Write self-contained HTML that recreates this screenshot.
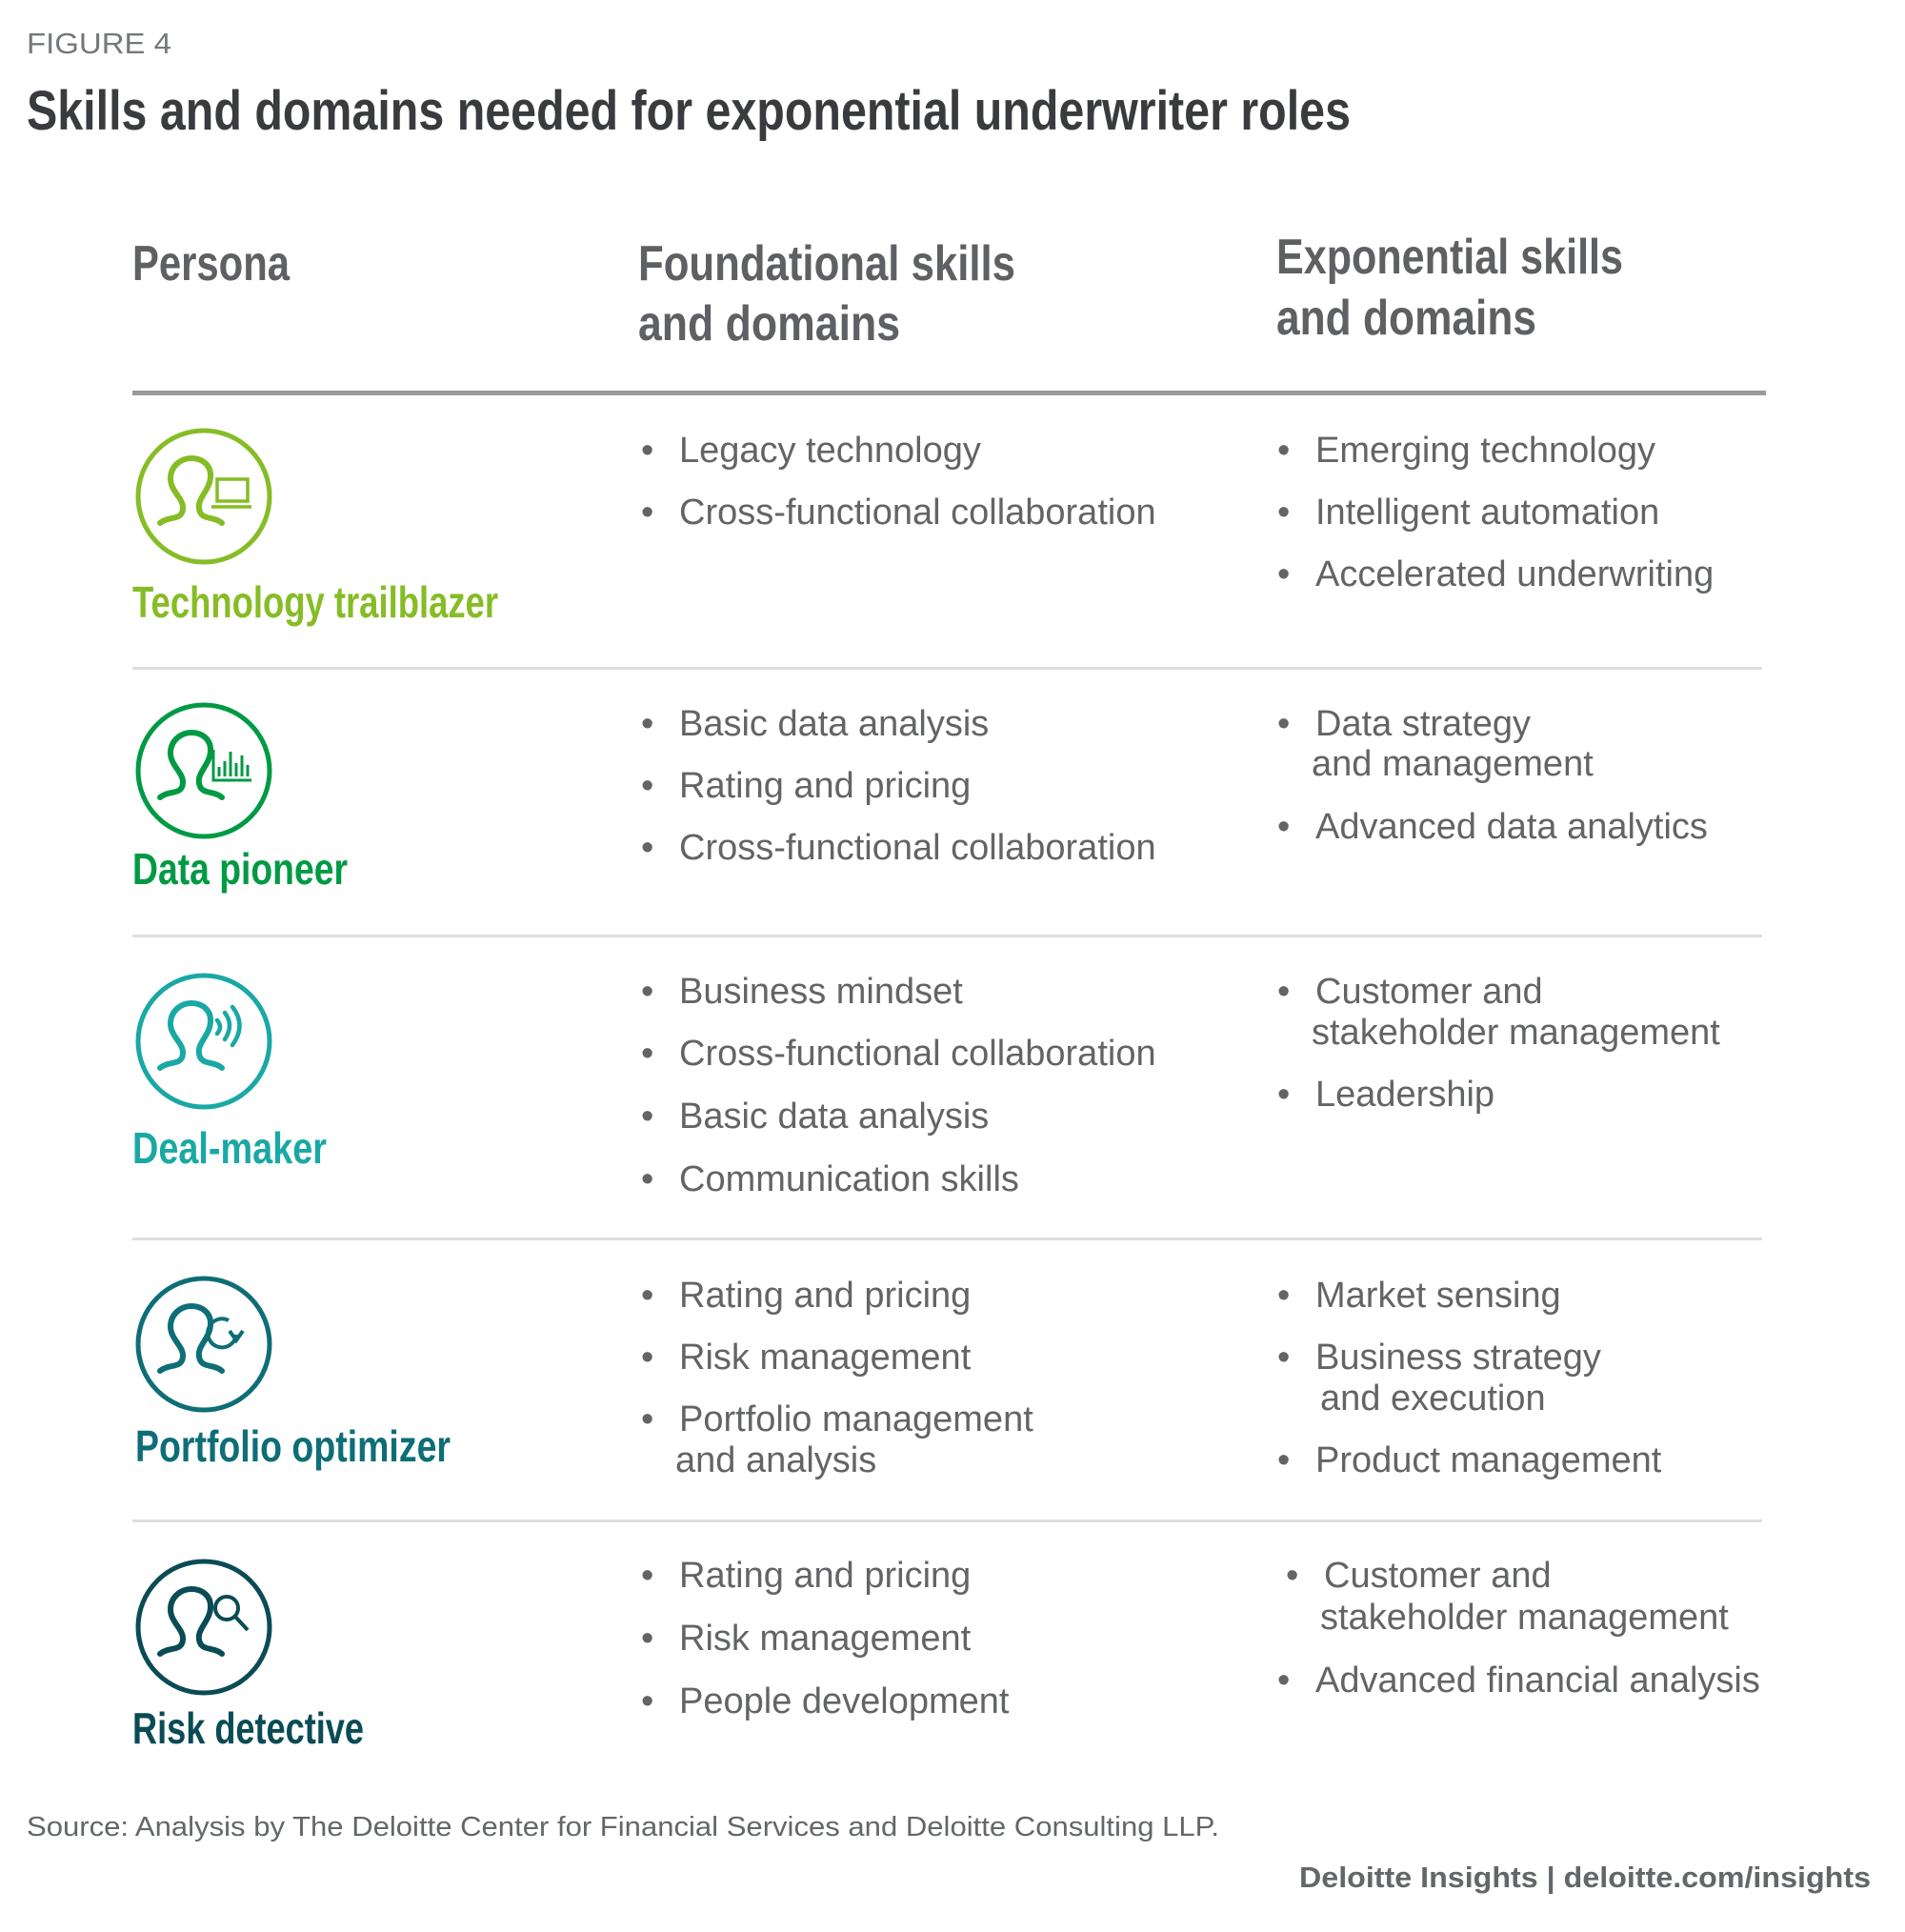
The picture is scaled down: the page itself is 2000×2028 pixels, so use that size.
<!DOCTYPE html>
<html><head><meta charset="utf-8"><style>
html,body{margin:0;padding:0;background:#fff;}
svg{display:block;}
.h{font-family:"Liberation Sans",sans-serif;font-weight:bold;fill:#5f6064;}
.b{font-family:"Liberation Sans",sans-serif;font-size:38px;fill:#636466;}
.p{font-family:"Liberation Sans",sans-serif;font-weight:bold;font-size:46px;}
</style></head><body>
<svg width="2000" height="2028" viewBox="0 0 2000 2028" xmlns="http://www.w3.org/2000/svg">
<text x="28" y="56" font-family="Liberation Sans, sans-serif" font-size="31" fill="#75787b" textLength="152" lengthAdjust="spacingAndGlyphs">FIGURE 4</text>
<text x="28" y="136" font-family="Liberation Sans, sans-serif" font-weight="bold" font-size="58" fill="#3a3b3e" textLength="1390" lengthAdjust="spacingAndGlyphs">Skills and domains needed for exponential underwriter roles</text>

<text class="h" x="139" y="294" font-size="52" textLength="165" lengthAdjust="spacingAndGlyphs">Persona</text>
<text class="h" x="670" y="294" font-size="52" textLength="396" lengthAdjust="spacingAndGlyphs">Foundational skills</text>
<text class="h" x="670" y="357" font-size="52" textLength="275" lengthAdjust="spacingAndGlyphs">and domains</text>
<text class="h" x="1340" y="287" font-size="52" textLength="364" lengthAdjust="spacingAndGlyphs">Exponential skills</text>
<text class="h" x="1340" y="351" font-size="52" textLength="273" lengthAdjust="spacingAndGlyphs">and domains</text>

<rect x="139" y="410" width="1715" height="5" fill="#97999b"/>
<rect x="139" y="700" width="1711" height="3" fill="#dedede"/>
<rect x="139" y="981" width="1711" height="3" fill="#dedede"/>
<rect x="139" y="1299" width="1711" height="3" fill="#dedede"/>
<rect x="139" y="1595" width="1711" height="3" fill="#dedede"/>

<defs>
<path id="person" d="M-46,28 C-36,20 -23,26 -22,13 C-21,2 -36,-6 -35,-20 C-34,-33 -23,-40 -13,-40 C-2,-40 8,-33 7,-20 C6,-6 -7,2 -5,13 C-3,26 10,20 19,28" fill="none" stroke-width="6" stroke-linecap="round"/>
</defs>

<g transform="translate(214,521)" stroke="#86bc25" fill="none">
<circle r="69" stroke-width="5"/>
<use href="#person" stroke="#86bc25"/>
<rect x="14" y="-18" width="32" height="23" stroke-width="3.5"/>
<line x1="8" y1="11" x2="50" y2="11" stroke-width="3.5"/>
</g>
<text class="p" x="139" y="648" fill="#86bc25" textLength="384" lengthAdjust="spacingAndGlyphs">Technology trailblazer</text>

<g transform="translate(214,809)" stroke="#009a44" fill="none">
<circle r="69" stroke-width="5"/>
<use href="#person" stroke="#009a44"/>
<path d="M10,-22 V10 H50" stroke-width="3"/>
<path d="M16,6 V-4 M22,6 V-10 M28,6 V-20 M34,6 V-8 M40,6 V-16 M46,6 V-6" stroke-width="3"/>
</g>
<text class="p" x="139" y="928" fill="#009a44" textLength="226" lengthAdjust="spacingAndGlyphs">Data pioneer</text>

<g transform="translate(214,1093)" stroke="#1aa8a5" fill="none">
<circle r="69" stroke-width="5"/>
<use href="#person" stroke="#1aa8a5"/>
<path d="M14,-22 Q20,-15 14,-8" stroke-width="4.5" stroke-linecap="round"/>
<path d="M22,-30 Q32,-17 22,-2" stroke-width="4.5" stroke-linecap="round"/>
<path d="M30,-36 Q45,-17 30,4" stroke-width="4.5" stroke-linecap="round"/>
</g>
<text class="p" x="139" y="1221" fill="#1aa8a5" textLength="204" lengthAdjust="spacingAndGlyphs">Deal-maker</text>

<g transform="translate(214,1411)" stroke="#0d6e77" fill="none">
<circle r="69" stroke-width="5"/>
<use href="#person" stroke="#0d6e77"/>
<path d="M42,-12 A15,15 0 1 1 34,-27" stroke-width="4" transform="translate(-8,2)"/>
<path d="M27,-14 L34,-4 L41,-14" stroke-width="4"/>
</g>
<text class="p" x="142" y="1534" fill="#0d6e77" textLength="331" lengthAdjust="spacingAndGlyphs">Portfolio optimizer</text>

<g transform="translate(214,1708)" stroke="#0a4b55" fill="none">
<circle r="69" stroke-width="5"/>
<use href="#person" stroke="#0a4b55"/>
<circle cx="24" cy="-20" r="12" stroke-width="4"/>
<line x1="33" y1="-11" x2="46" y2="3" stroke-width="4"/>
</g>
<text class="p" x="139" y="1830" fill="#0a4b55" textLength="243" lengthAdjust="spacingAndGlyphs">Risk detective</text>

<g>
<text class="b" x="673" y="485">•</text><text class="b" x="713" y="485">Legacy technology</text>
<text class="b" x="673" y="550">•</text><text class="b" x="713" y="550">Cross-functional collaboration</text>

<text class="b" x="673" y="772">•</text><text class="b" x="713" y="772">Basic data analysis</text>
<text class="b" x="673" y="837">•</text><text class="b" x="713" y="837">Rating and pricing</text>
<text class="b" x="673" y="902">•</text><text class="b" x="713" y="902">Cross-functional collaboration</text>

<text class="b" x="673" y="1053">•</text><text class="b" x="713" y="1053">Business mindset</text>
<text class="b" x="673" y="1118">•</text><text class="b" x="713" y="1118">Cross-functional collaboration</text>
<text class="b" x="673" y="1184">•</text><text class="b" x="713" y="1184">Basic data analysis</text>
<text class="b" x="673" y="1250">•</text><text class="b" x="713" y="1250">Communication skills</text>

<text class="b" x="673" y="1372">•</text><text class="b" x="713" y="1372">Rating and pricing</text>
<text class="b" x="673" y="1437">•</text><text class="b" x="713" y="1437">Risk management</text>
<text class="b" x="673" y="1502">•</text><text class="b" x="713" y="1502">Portfolio management</text>
<text class="b" x="709" y="1545">and analysis</text>

<text class="b" x="673" y="1666">•</text><text class="b" x="713" y="1666">Rating and pricing</text>
<text class="b" x="673" y="1732">•</text><text class="b" x="713" y="1732">Risk management</text>
<text class="b" x="673" y="1798">•</text><text class="b" x="713" y="1798">People development</text>
</g>

<g>
<text class="b" x="1341" y="485">•</text><text class="b" x="1381" y="485">Emerging technology</text>
<text class="b" x="1341" y="550">•</text><text class="b" x="1381" y="550">Intelligent automation</text>
<text class="b" x="1341" y="615">•</text><text class="b" x="1381" y="615">Accelerated underwriting</text>

<text class="b" x="1341" y="772">•</text><text class="b" x="1381" y="772">Data strategy</text>
<text class="b" x="1377" y="814">and management</text>
<text class="b" x="1341" y="880">•</text><text class="b" x="1381" y="880">Advanced data analytics</text>

<text class="b" x="1341" y="1053">•</text><text class="b" x="1381" y="1053">Customer and</text>
<text class="b" x="1377" y="1096">stakeholder management</text>
<text class="b" x="1341" y="1161">•</text><text class="b" x="1381" y="1161">Leadership</text>

<text class="b" x="1341" y="1372">•</text><text class="b" x="1381" y="1372">Market sensing</text>
<text class="b" x="1341" y="1437">•</text><text class="b" x="1381" y="1437">Business strategy</text>
<text class="b" x="1386" y="1480">and execution</text>
<text class="b" x="1341" y="1545">•</text><text class="b" x="1381" y="1545">Product management</text>

<text class="b" x="1350" y="1666">•</text><text class="b" x="1390" y="1666">Customer and</text>
<text class="b" x="1386" y="1710">stakeholder management</text>
<text class="b" x="1341" y="1776">•</text><text class="b" x="1381" y="1776">Advanced financial analysis</text>
</g>

<text x="28" y="1927" font-family="Liberation Sans, sans-serif" font-size="29" fill="#63666a" textLength="1252" lengthAdjust="spacingAndGlyphs">Source: Analysis by The Deloitte Center for Financial Services and Deloitte Consulting LLP.</text>
<text x="1964" y="1981" text-anchor="end" font-family="Liberation Sans, sans-serif" font-weight="bold" font-size="31" fill="#63666a" textLength="600" lengthAdjust="spacingAndGlyphs">Deloitte Insights | deloitte.com/insights</text>
</svg>
</body></html>
